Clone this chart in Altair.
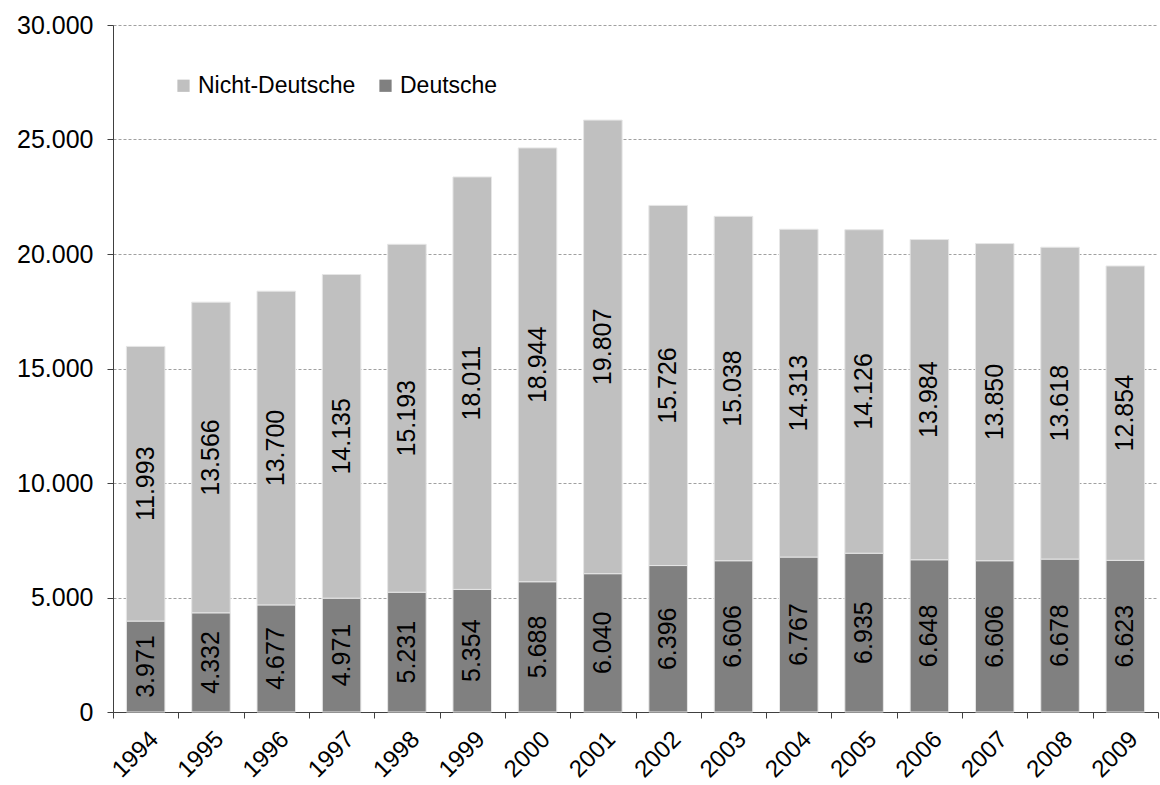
import altair as alt
import pandas as pd

years = ["1994", "1995", "1996", "1997", "1998", "1999", "2000", "2001",
         "2002", "2003", "2004", "2005", "2006", "2007", "2008", "2009"]
deutsche = [3971, 4332, 4677, 4971, 5231, 5354, 5688, 6040,
            6396, 6606, 6767, 6935, 6648, 6606, 6678, 6623]
nicht_deutsche = [11993, 13566, 13700, 14135, 15193, 18011, 18944, 19807,
                  15726, 15038, 14313, 14126, 13984, 13850, 13618, 12854]

groups = ["Nicht-Deutsche", "Deutsche"]
colors = ["#c0c0c0", "#808080"]

rows = []
for i, y in enumerate(years):
    rows.append({"Jahr": y, "Gruppe": "Deutsche", "Wert": deutsche[i], "ord": 0})
    rows.append({"Jahr": y, "Gruppe": "Nicht-Deutsche", "Wert": nicht_deutsche[i], "ord": 1})
df = pd.DataFrame(rows)

FONT = "Liberation Sans"

base = alt.Chart(df).transform_stack(
    stack="Wert", groupby=["Jahr"], sort=[alt.SortField("ord", order="ascending")], as_=["y0", "y1"]
).transform_calculate(mid="(datum.y0 + datum.y1) / 2")

x_enc = alt.X(
    "Jahr:N",
    title=None,
    sort=years,
    scale=alt.Scale(paddingInner=0, paddingOuter=0),
    axis=alt.Axis(
        labelAngle=-45, labelFontSize=24, labelFont=FONT, labelColor="#000000",
        tickBand="extent", tickSize=6, tickColor="#404040", domainColor="#404040",
        labelPadding=9, grid=False, labelAlign="right", labelBaseline="top",
    ),
)

bars = base.mark_bar(stroke="#e6e6e6", strokeWidth=1, width=alt.RelativeBandSize(0.59)).encode(
    x=x_enc,
    y=alt.Y(
        "y0:Q", title=None,
        scale=alt.Scale(domain=[0, 30000], nice=False),
        axis=alt.Axis(
            values=[0, 5000, 10000, 15000, 20000, 25000, 30000], format=",d",
            labelFontSize=25, labelFont=FONT, labelColor="#000000", labelPadding=14,
            tickSize=6, tickColor="#404040", domainColor="#404040",
            grid=True, gridColor="#a0a0a0", gridDash=[3, 2], gridWidth=1,
        ),
    ),
    y2="y1:Q",
    color=alt.Color(
        "Gruppe:N",
        scale=alt.Scale(domain=groups, range=colors),
        legend=alt.Legend(
            title=None, orient="none", legendX=59, legendY=49, direction="horizontal",
            symbolType="square", symbolSize=150, symbolStrokeWidth=0,
            labelFontSize=23, labelFont=FONT, labelColor="#000000",
            labelOffset=3, columnPadding=18,
        ),
    ),
)

labels = base.mark_text(angle=270, align="center", baseline="middle", fontSize=25,
                        font=FONT, color="#000000").encode(
    x=alt.X("Jahr:N", sort=years),
    y=alt.Y("mid:Q"),
    text=alt.Text("Wert:Q", format=",d"),
)

chart = alt.layer(bars, labels).properties(
    width=1045, height=687,
    autosize=alt.AutoSizeParams(type="none"),
    padding={"left": 113, "top": 25, "right": 2, "bottom": 73},
).configure(
    locale={"number": {"decimal": ",", "thousands": ".", "grouping": [3], "currency": ["", " €"]}}
).configure_view(stroke=None)

chart.save("out.html", embed_options={"renderer": "svg", "actions": False})
